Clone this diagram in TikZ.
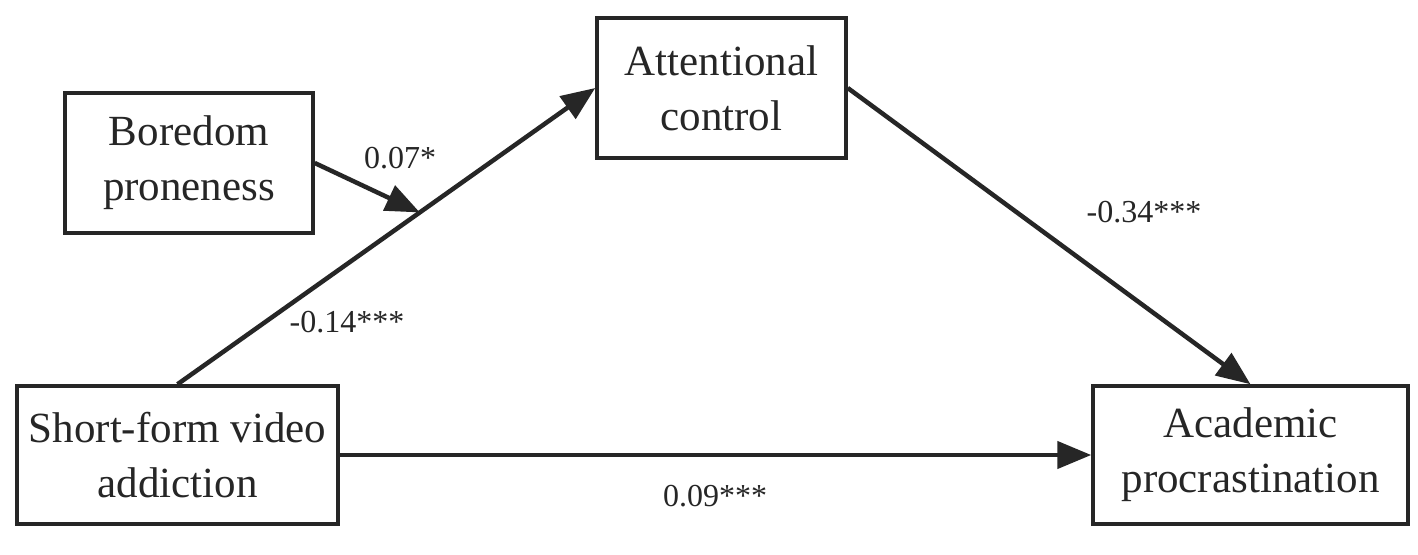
\documentclass[tikz,border=0pt]{standalone}
\usepackage{fontspec}
\setmainfont{Liberation Serif}
\usetikzlibrary{arrows.meta,calc}
\definecolor{ink}{HTML}{262626}
\begin{document}
\begin{tikzpicture}[x=1pt,y=-1pt,
  box/.style={draw=ink,line width=3.5pt,rectangle,inner sep=0pt,align=center,
    text=ink,font=\fontsize{43}{55}\selectfont},
  conn/.style={draw=ink,line width=4.5pt,-{Triangle[length=34pt,width=27pt]}},
  lbl/.style={text=ink,font=\fontsize{32}{38}\selectfont,inner sep=0pt}]
\useasboundingbox[fill=white] (0,0) rectangle (1418,554);
\node[box,minimum width=248pt,minimum height=140pt] (bor) at (189,163) {Boredom\\proneness};
\node[box,minimum width=249pt,minimum height=140pt] (att) at (721.5,88) {Attentional\\control};
\node[box,minimum width=321pt,minimum height=138pt] (sfv) at (177.5,455) {Short-form video\\addiction};
\node[box,minimum width=315pt,minimum height=138pt] (aca) at (1250.5,455) {Academic\\procrastination};
\coordinate (mid) at ($(sfv.north)!0.58!(att.west)$);
\draw[conn] (sfv.north) -- (att.west);
\draw[conn] (bor.east) -- (mid);
\draw[conn] (att.east) -- (aca.north);
\draw[conn] (sfv.east) -- (aca.west);
\node[lbl] (l1) at (400,158) {0.07*};
\node[lbl] (l2) at (347,322) {-0.14***};
\node[lbl] (l3) at (1144,212) {-0.34***};
\node[lbl] (l4) at (715,496) {0.09***};
\end{tikzpicture}
\end{document}
